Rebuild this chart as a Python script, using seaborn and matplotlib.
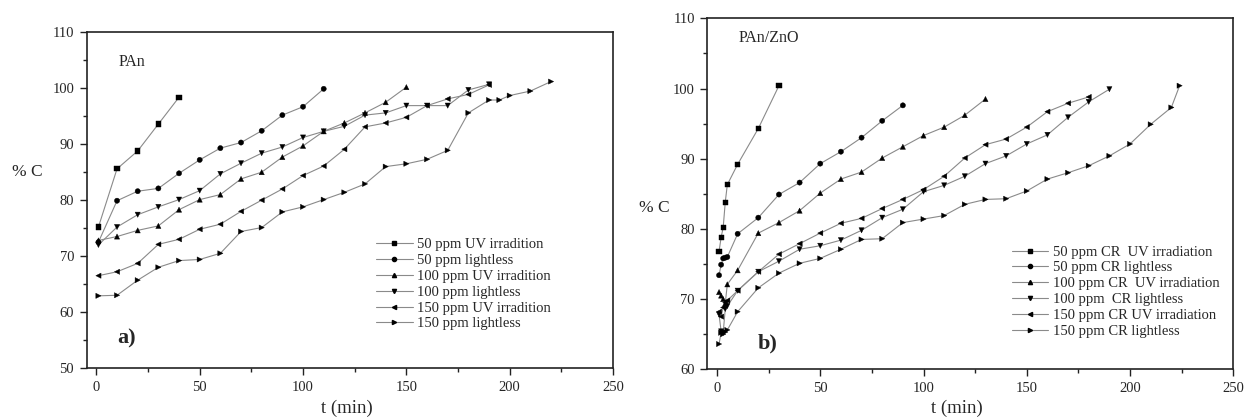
import matplotlib.pyplot as plt
import pandas as pd
import seaborn as sns
from matplotlib.lines import Line2D
from matplotlib.ticker import MultipleLocator

# ---- panel a) PAn ----
pan_labels = ["50 ppm UV irradition", "50 ppm lightless", "100 ppm UV irradition",
              "100 ppm lightless", "150 ppm UV irradition", "150 ppm lightless"]
pan_t_50uv = [1, 10, 20, 30, 40]
pan_c_50uv = [75.2, 85.6, 88.8, 93.6, 98.4]
pan_t_50dark = [1, 10, 20, 30, 40, 50, 60, 70, 80, 90, 100, 110]
pan_c_50dark = [72.5, 79.9, 81.6, 82.1, 84.8, 87.2, 89.3, 90.3, 92.4, 95.2, 96.7, 99.9]
pan_t_100uv = [1, 10, 20, 30, 40, 50, 60, 70, 80, 90, 100, 110, 120, 130, 140, 150]
pan_c_100uv = [72.8, 73.5, 74.6, 75.4, 78.3, 80.1, 81.0, 83.8, 85.0, 87.7, 89.7, 92.3,
               93.8, 95.6, 97.5, 100.2]
pan_t_100dark = [1, 10, 20, 30, 40, 50, 60, 70, 80, 90, 100, 110, 120, 130, 140, 150,
                 160, 170, 180, 190]
pan_c_100dark = [72.0, 75.2, 77.4, 78.8, 80.1, 81.7, 84.7, 86.6, 88.4, 89.5, 91.2, 92.3,
                 93.2, 95.2, 95.6, 96.9, 96.9, 96.9, 99.7, 100.7]
pan_t_150uv = [1, 10, 20, 30, 40, 50, 60, 70, 80, 90, 100, 110, 120, 130, 140, 150,
               160, 170, 180, 190]
pan_c_150uv = [66.5, 67.2, 68.7, 72.1, 73.0, 74.8, 75.7, 78.0, 80.0, 82.0, 84.4, 86.1,
               89.1, 93.1, 93.8, 94.8, 96.9, 98.1, 98.9, 100.6]
pan_t_150dark = [1, 10, 20, 30, 40, 50, 60, 70, 80, 90, 100, 110, 120, 130, 140, 150,
                 160, 170, 180, 190, 195, 200, 210, 220]
pan_c_150dark = [62.9, 63.0, 65.7, 68.0, 69.2, 69.4, 70.5, 74.4, 75.1, 77.9, 78.8, 80.1,
                 81.4, 82.9, 86.0, 86.5, 87.3, 88.9, 95.6, 97.9, 97.9, 98.7, 99.5, 101.2]

# ---- panel b) PAn/ZnO ----
zno_labels = ["50 ppm CR  UV irradiation", "50 ppm CR lightless", "100 ppm CR  UV irradiation",
              "100 ppm  CR lightless", "150 ppm CR UV irradiation", "150 ppm CR lightless"]
zno_t_50uv = [1, 2, 3, 4, 5, 10, 20, 30]
zno_c_50uv = [76.8, 78.8, 80.2, 83.8, 86.3, 89.2, 94.3, 100.4]
zno_t_50dark = [1, 2, 3, 4, 5, 10, 20, 30, 40, 50, 60, 70, 80, 90]
zno_c_50dark = [73.4, 74.9, 75.8, 75.9, 76.0, 79.3, 81.6, 84.9, 86.6, 89.3, 91.0, 93.0,
                95.4, 97.6]
zno_t_100uv = [1, 2, 3, 4, 5, 10, 20, 30, 40, 50, 60, 70, 80, 90, 100, 110, 120, 130]
zno_c_100uv = [71.0, 70.5, 70.0, 69.4, 72.1, 74.1, 79.4, 80.9, 82.6, 85.1, 87.1, 88.1,
               90.1, 91.7, 93.3, 94.5, 96.2, 98.5]
zno_t_100dark = [1, 2, 3, 4, 5, 10, 20, 30, 40, 50, 60, 70, 80, 90, 100, 110, 120, 130,
                 140, 150, 160, 170, 180, 190]
zno_c_100dark = [67.8, 65.4, 65.2, 68.6, 69.0, 71.2, 73.9, 75.4, 77.1, 77.6, 78.4, 79.8,
                 81.6, 82.8, 85.3, 86.2, 87.5, 89.3, 90.4, 92.1, 93.4, 95.9, 98.1, 99.9]
zno_t_150uv = [1, 2, 3, 4, 5, 10, 20, 30, 40, 50, 60, 70, 80, 90, 100, 110, 120, 130,
               140, 150, 160, 170, 180]
zno_c_150uv = [68.2, 67.5, 68.8, 69.5, 69.8, 71.2, 73.9, 76.4, 77.9, 79.4, 80.8, 81.5,
               82.9, 84.2, 85.6, 87.5, 90.1, 92.0, 92.8, 94.5, 96.7, 97.9, 98.8]
zno_t_150dark = [1, 2, 3, 4, 5, 10, 20, 30, 40, 50, 60, 70, 80, 90, 100, 110, 120, 130,
                 140, 150, 160, 170, 180, 190, 200, 210, 220, 224]
zno_c_150dark = [63.6, 65.2, 65.0, 65.3, 65.6, 68.2, 71.6, 73.7, 75.1, 75.8, 77.1, 78.5,
                 78.6, 80.9, 81.4, 81.9, 83.5, 84.2, 84.3, 85.4, 87.1, 88.0, 89.0, 90.4,
                 92.1, 94.9, 97.3, 100.4]

markers = ["s", "o", "^", "v", "<", ">"]


def build_frame(labels, ts, cs):
    parts = []
    for lab, t, c in zip(labels, ts, cs):
        parts.append(pd.DataFrame({"t": t, "C": c, "series": lab}))
    return pd.concat(parts, ignore_index=True)


pan_df = build_frame(pan_labels,
                     [pan_t_50uv, pan_t_50dark, pan_t_100uv, pan_t_100dark, pan_t_150uv, pan_t_150dark],
                     [pan_c_50uv, pan_c_50dark, pan_c_100uv, pan_c_100dark, pan_c_150uv, pan_c_150dark])
zno_df = build_frame(zno_labels,
                     [zno_t_50uv, zno_t_50dark, zno_t_100uv, zno_t_100dark, zno_t_150uv, zno_t_150dark],
                     [zno_c_50uv, zno_c_50dark, zno_c_100uv, zno_c_100dark, zno_c_150uv, zno_c_150dark])

sns.set_style("ticks")
plt.rcParams['font.family'] = ['Liberation Serif', 'DejaVu Serif']

fig = plt.figure(figsize=(12.45, 4.17), dpi=100)
ax_a = fig.add_axes([0.0696, 0.1175, 0.4228, 0.805])
ax_b = fig.add_axes([0.5681, 0.1144, 0.4225, 0.8417])


def draw_panel(ax, df, labels, ylim, title, tag, title_xy, tag_xy, leg_anchor, ylab_xy, xlab_xy):
    sns.lineplot(data=df, x="t", y="C", units="series", estimator=None, sort=False,
                 color="#8a8a8a", lw=0.8, ax=ax, legend=False)
    sns.scatterplot(data=df, x="t", y="C", style="series", markers=dict(zip(labels, markers)),
                    color="black", edgecolor="black", linewidth=0.3, s=14, ax=ax,
                    legend=False, zorder=3)
    ax.set_xlim(-4.7, 250)
    ax.set_ylim(*ylim)
    ax.xaxis.set_major_locator(MultipleLocator(50))
    ax.xaxis.set_minor_locator(MultipleLocator(25))
    ax.yaxis.set_major_locator(MultipleLocator(10))
    ax.yaxis.set_minor_locator(MultipleLocator(5))
    ax.tick_params(which="major", length=5, width=1, labelsize=10.5, pad=4, color="#222222")
    ax.tick_params(which="minor", length=3, width=1, color="#222222")
    for sp in ax.spines.values():
        sp.set_linewidth(1.2)
        sp.set_color("#222222")

    ax.set_ylabel("% C", rotation=0, fontsize=12.5, ha="center", va="center")
    ax.yaxis.set_label_coords(*ylab_xy)
    ax.set_xlabel("t (min)", fontsize=13.5, va="center")
    ax.xaxis.set_label_coords(*xlab_xy)

    ax.text(*title_xy, title, transform=ax.transAxes, fontsize=11.5, va="center", ha="left")
    ax.text(*tag_xy, tag, transform=ax.transAxes, fontsize=16, fontweight="bold",
            va="center", ha="left")

    handles = [Line2D([], [], color="#8a8a8a", lw=0.8, marker=m, markersize=3,
                      markerfacecolor="black", markeredgecolor="black") for m in markers]
    ax.legend(handles, labels, loc="upper left", bbox_to_anchor=leg_anchor, frameon=False,
              fontsize=10.5, handlelength=2.5, handletextpad=0.3, labelspacing=0.18,
              borderpad=0, borderaxespad=0)


draw_panel(ax_a, pan_df, pan_labels, (50, 110), "PAn", "a)",
           (0.06, 0.912), (0.058, 0.089), (0.55, 0.387), (-0.113, 0.584), (0.495, -0.119))
draw_panel(ax_b, zno_df, zno_labels, (60, 110), "PAn/ZnO", "b)",
           (0.059, 0.943), (0.096, 0.074), (0.579, 0.353), (-0.101, 0.46), (0.475, -0.110))

fig.savefig("out.png", dpi=100)
